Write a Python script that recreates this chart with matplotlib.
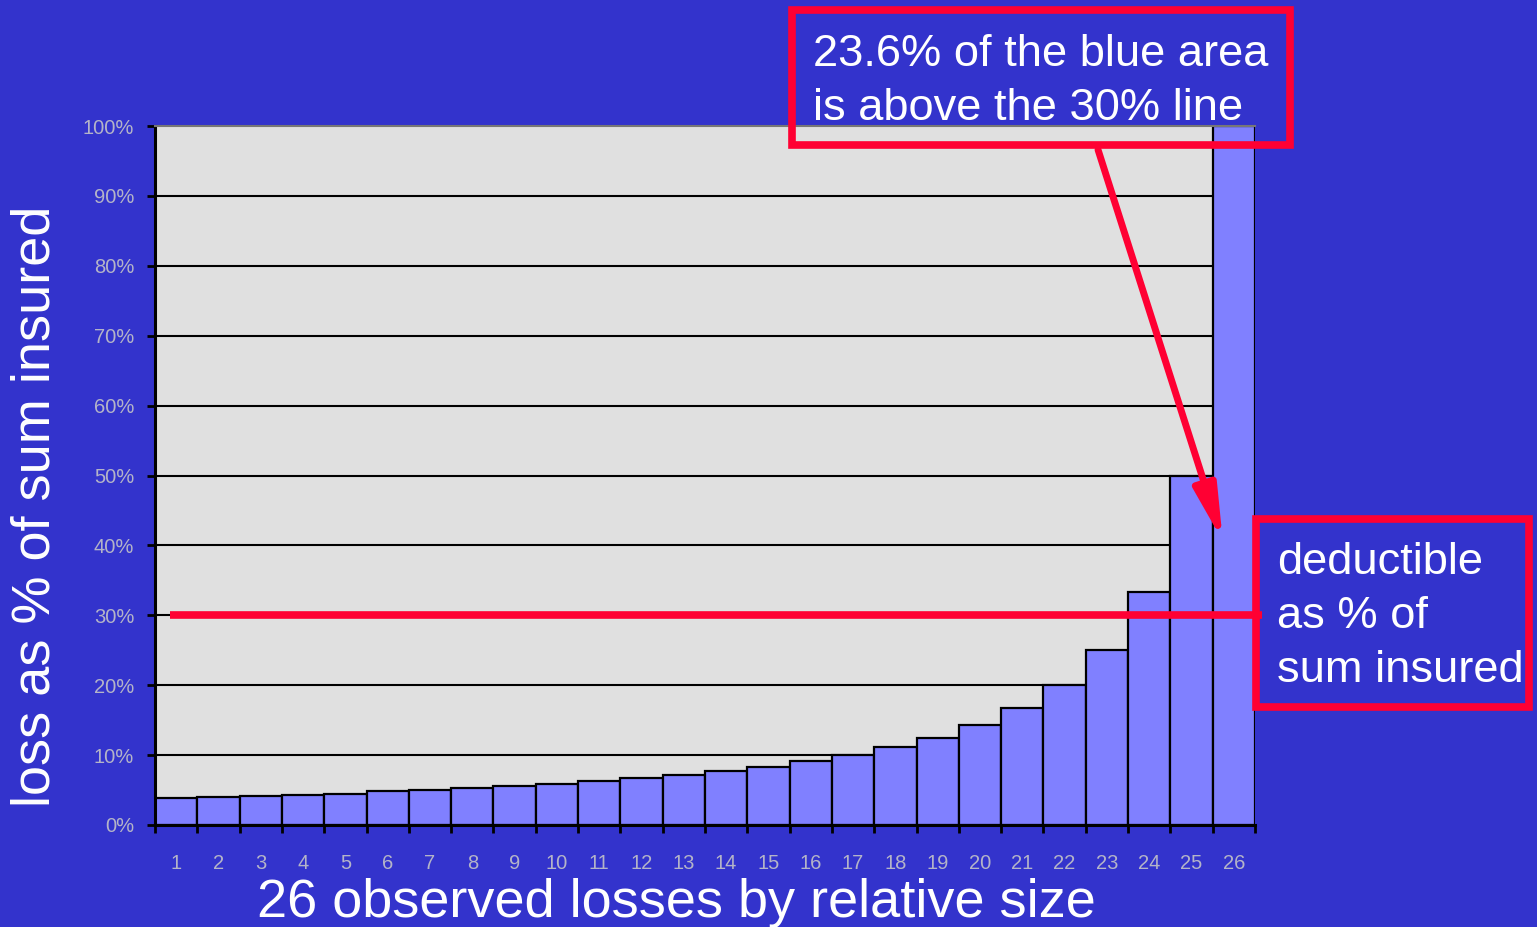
import matplotlib
matplotlib.use("Agg")
import matplotlib.pyplot as plt
from matplotlib.patches import Rectangle

plt.rcParams['font.family'] = ['Liberation Sans', 'DejaVu Sans']

# 26 observed losses, sorted by size, as % of sum insured
loss_rank = list(range(1, 27))
loss_pct = [3.8, 4.0, 4.2, 4.3, 4.5, 4.8, 5.0, 5.3, 5.6, 5.9, 6.3, 6.7, 7.1,
            7.7, 8.3, 9.1, 10.0, 11.1, 12.5, 14.3, 16.7, 20.0, 25.0, 33.3,
            50.0, 100.0]
y_ticks = [0, 10, 20, 30, 40, 50, 60, 70, 80, 90, 100]
y_tick_labels = [f"{v}%" for v in y_ticks]
deductible_pct = 30
share_above = 23.6

BG = '#3333CC'
PLOT_BG = '#E0E0E0'
BAR = '#8080FF'
RED = '#FF0033'
TICK_TXT = '#B4B4C8'

W, H = 1537, 927
fig = plt.figure(figsize=(W / 100, H / 100), dpi=100, facecolor=BG)


def fx(px):
    return px / W


def fy(py):
    return 1 - py / H


ax = fig.add_axes([fx(155), fy(825), fx(1255) - fx(155), fy(126) - fy(825)])
ax.set_facecolor(PLOT_BG)
ax.set_xlim(0.5, 26.5)
ax.set_ylim(0, 100)

# horizontal gridlines behind the bars
for v in y_ticks[1:-1]:
    ax.axhline(v, color='black', lw=1.5, zorder=1)

ax.bar(loss_rank, loss_pct, width=1.0, color=BAR, edgecolor='black',
       linewidth=1.6, zorder=2)

ax.spines['right'].set_visible(False)
ax.spines['top'].set_color('#777777')
ax.spines['top'].set_linewidth(1.5)
ax.spines['left'].set_linewidth(2.2)
ax.spines['bottom'].set_linewidth(2.2)

ax.set_yticks(y_ticks)
ax.set_yticklabels(y_tick_labels, va='center_baseline')
ax.tick_params(axis='y', direction='out', length=6, width=2, pad=9,
               labelsize=14.5, labelcolor=TICK_TXT, color='black')

ax.set_xticks(loss_rank)
ax.set_xticklabels([str(r) for r in loss_rank])
ax.set_xticks([r + 0.5 for r in range(0, 27)], minor=True)
ax.tick_params(axis='x', which='major', length=0, pad=21, labelsize=14.5,
               labelcolor=TICK_TXT)
ax.tick_params(axis='x', which='minor', direction='out', length=6, width=2,
               color='black')

fig.text(fx(36), fy(506), 'loss as % of sum insured', rotation=90,
         fontsize=39, color='white', ha='center', va='center')
fig.text(fx(676), fy(903), '26 observed losses by relative size',
         fontsize=39, color='white', ha='center', va='center')

# deductible line
ax.plot([0.86, 26.67], [deductible_pct, deductible_pct], color=RED, lw=5.5,
        solid_capstyle='butt', clip_on=False, zorder=5)

# callout boxes
fig.add_artist(Rectangle((fx(792), fy(145)), fx(1290) - fx(792),
                         fy(10) - fy(145), transform=fig.transFigure,
                         facecolor='none', edgecolor=RED, lw=5.5, zorder=6))
fig.text(fx(813), fy(55), f'{share_above}% of the blue area',
         fontsize=32.6, color='white', ha='left', va='center', zorder=7)
fig.text(fx(813), fy(109), f'is above the {deductible_pct}% line',
         fontsize=32.6, color='white', ha='left', va='center', zorder=7)

fig.add_artist(Rectangle((fx(1256), fy(707)), fx(1529) - fx(1256),
                         fy(519) - fy(707), transform=fig.transFigure,
                         facecolor='none', edgecolor=RED, lw=5.5, zorder=6))
for i, line in enumerate(['deductible', 'as % of', 'sum insured']):
    fig.text(fx(1277), fy(563 + 54 * i), line, fontsize=32.6, color='white',
             ha='left', va='center', zorder=7)

# arrow from the note down to the tail bars
ax.annotate('', xy=(25.74, 40.6), xytext=(22.79, 96.6),
            xycoords='data', textcoords='data',
            arrowprops=dict(arrowstyle='-|>,head_length=1.6,head_width=0.34',
                            mutation_scale=20, color=RED, lw=5,
                            shrinkA=0, shrinkB=0),
            annotation_clip=False, zorder=8)

fig.savefig('out.png', dpi=100, facecolor=BG)
